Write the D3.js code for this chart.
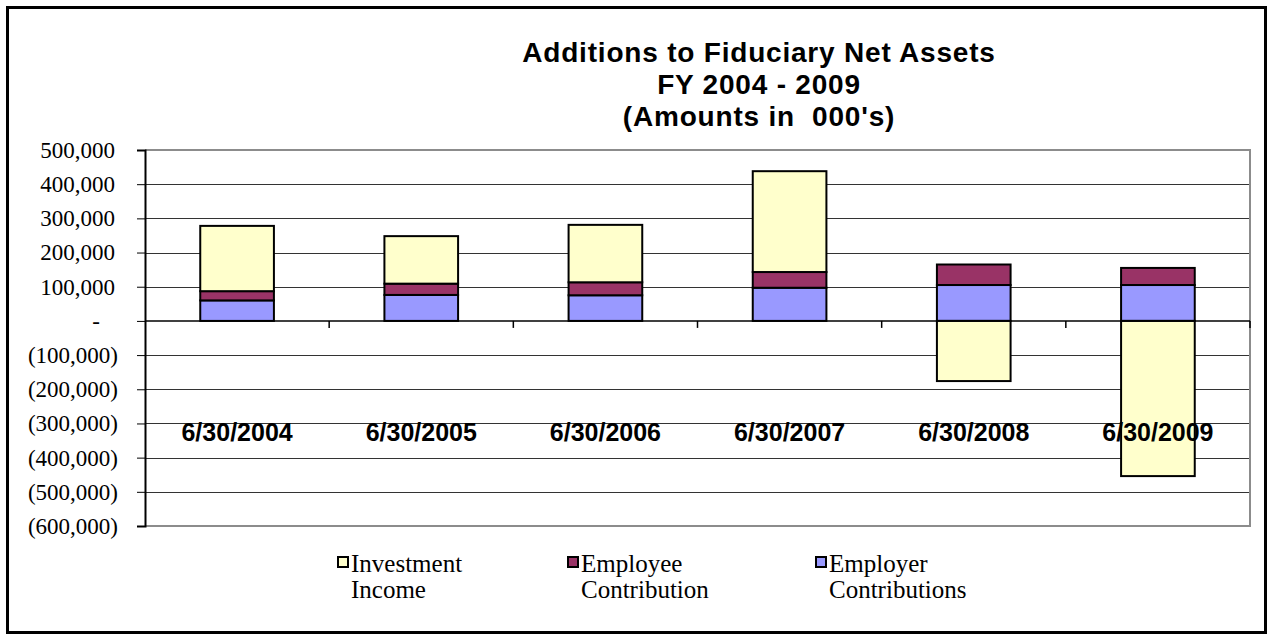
<!DOCTYPE html>
<html lang="en">
<head>
    <meta charset="UTF-8">
    <title>Additions to Fiduciary Net Assets</title>
    <script src="https://d3js.org/d3.v7.min.js"></script>
    <style>
        body {
            margin: 0;
            background: #fff;
        }
        svg {
            display: block;
        }
        .title {
            font-family: "Liberation Sans", Arial, sans-serif;
            font-weight: bold;
            font-size: 28px;
            letter-spacing: 0.8px;
            white-space: pre;
            fill: #000;
        }
        .ylabel {
            font-family: "Liberation Serif", "Times New Roman", serif;
            font-size: 23px;
            fill: #000;
        }
        .xlabel {
            font-family: "Liberation Sans", Arial, sans-serif;
            font-weight: bold;
            font-size: 25px;
            fill: #000;
        }
        .legend text {
            font-family: "Liberation Serif", "Times New Roman", serif;
            font-size: 25px;
            fill: #000;
        }
    </style>
</head>
<body>
    <svg id="chart" width="1272" height="635"></svg>
    <script>
        // Data (amounts in 000's)
        const categories = ["6/30/2004", "6/30/2005", "6/30/2006", "6/30/2007", "6/30/2008", "6/30/2009"];
        const employer = [60000, 76000, 75000, 97000, 105000, 105000];
        const employee = [27000, 33000, 38000, 46000, 60000, 50000];
        const investment = [191000, 139000, 168000, 295000, -176000, -454000];
        const yTicks = [500000, 400000, 300000, 200000, 100000, 0, -100000, -200000, -300000, -400000, -500000, -600000];
        const titleLines = ["Additions to Fiduciary Net Assets", "FY 2004 - 2009", "(Amounts in  000's)"];

        const seriesKeys = ["employer", "employee", "investment"];
        const colors = { employer: "#9999ff", employee: "#993366", investment: "#ffffcc" };

        // plot area
        const plot = { left: 145, right: 1250, top: 150, bottom: 526 };

        const svg = d3.select("#chart");

        // outer frame
        svg.append("rect")
            .attr("x", 7.5).attr("y", 7.5)
            .attr("width", 1258).attr("height", 625)
            .attr("fill", "#fff")
            .attr("stroke", "#000")
            .attr("stroke-width", 3);

        // title
        svg.append("text")
            .attr("class", "title")
            .attr("text-anchor", "middle")
            .selectAll("tspan")
            .data(titleLines)
            .enter()
            .append("tspan")
            .attr("x", 759)
            .attr("y", (d, i) => 62 + i * 32)
            .text(d => d);

        const x = d3.scaleBand()
            .domain(categories)
            .range([plot.left, plot.right])
            .paddingInner(0.6)
            .paddingOuter(0.3);

        const y = d3.scaleLinear()
            .domain([-600000, 500000])
            .range([plot.bottom, plot.top]);

        // gridlines
        svg.append("g")
            .selectAll("line")
            .data(yTicks.filter(v => v !== 500000 && v !== -600000 && v !== 0))
            .enter()
            .append("line")
            .attr("x1", plot.left).attr("x2", plot.right)
            .attr("y1", d => Math.round(y(d)) + 0.5)
            .attr("y2", d => Math.round(y(d)) + 0.5)
            .attr("stroke", "#333")
            .attr("stroke-width", 1);

        // plot border (top, right, bottom in grey)
        svg.append("path")
            .attr("d", `M${plot.left},${plot.top}H${plot.right}V${plot.bottom}H${plot.left}`)
            .attr("fill", "none")
            .attr("stroke", "#8c8c8c")
            .attr("stroke-width", 2);

        // stacked bars
        const table = categories.map((c, i) => ({
            category: c,
            employer: employer[i],
            employee: employee[i],
            investment: investment[i]
        }));

        const stacked = d3.stack()
            .keys(seriesKeys)
            .offset(d3.stackOffsetDiverging)(table);

        svg.append("g")
            .selectAll("g")
            .data(stacked)
            .enter()
            .append("g")
            .attr("fill", d => colors[d.key])
            .selectAll("rect")
            .data(d => d)
            .enter()
            .append("rect")
            .attr("x", d => x(d.data.category))
            .attr("y", d => y(Math.max(d[0], d[1])))
            .attr("width", x.bandwidth())
            .attr("height", d => Math.abs(y(d[0]) - y(d[1])))
            .attr("stroke", "#000")
            .attr("stroke-width", 2);

        // y axis
        const fmt = v => v === 0 ? "-" : v < 0 ? "(" + d3.format(",")(-v) + ")" : d3.format(",")(v);
        const yAxis = svg.append("g")
            .attr("transform", `translate(${plot.left},0)`)
            .call(d3.axisLeft(y).tickValues(yTicks).tickSize(8).tickPadding(19).tickFormat(fmt));
        yAxis.select(".domain").attr("stroke", "#000").attr("stroke-width", 2);
        yAxis.selectAll(".tick line").attr("stroke", "#000");
        yAxis.selectAll(".tick text")
            .attr("class", "ylabel")
            .attr("font-family", null)
            .attr("font-size", null)
            .attr("fill", "#000")
            .attr("dx", d => d > 0 ? -3 : d === 0 ? -18 : 0);

        // zero line with category ticks
        const zeroAxis = svg.append("g")
            .attr("transform", `translate(0,${y(0)})`);
        zeroAxis.append("line")
            .attr("x1", plot.left).attr("x2", plot.right)
            .attr("stroke", "#000").attr("stroke-width", 1.5);
        zeroAxis.selectAll(".ctick")
            .data(categories.slice(1).concat(["end"]))
            .enter()
            .append("line")
            .attr("x1", d => d === "end" ? plot.right : x(d) - x.step() * x.paddingInner() / 2)
            .attr("x2", d => d === "end" ? plot.right : x(d) - x.step() * x.paddingInner() / 2)
            .attr("y1", 0).attr("y2", 7)
            .attr("stroke", "#000").attr("stroke-width", 1.5);

        // category labels (placed low, as in the original)
        svg.append("g")
            .selectAll("text")
            .data(categories)
            .enter()
            .append("text")
            .attr("class", "xlabel")
            .attr("text-anchor", "middle")
            .attr("x", d => x(d) + x.bandwidth() / 2)
            .attr("y", y(-300000) + 18)
            .text(d => d);

        // legend
        const legendItems = [
            { key: "investment", lines: ["Investment", "Income"], x: 338 },
            { key: "employee", lines: ["Employee", "Contribution"], x: 568 },
            { key: "employer", lines: ["Employer", "Contributions"], x: 816 }
        ];
        const legend = svg.append("g").attr("class", "legend");
        const li = legend.selectAll("g")
            .data(legendItems)
            .enter()
            .append("g")
            .attr("transform", d => `translate(${d.x},0)`);
        li.append("rect")
            .attr("x", 0).attr("y", 557)
            .attr("width", 10).attr("height", 10)
            .attr("fill", d => colors[d.key])
            .attr("stroke", "#000")
            .attr("stroke-width", 2);
        li.append("text")
            .attr("x", 13).attr("y", 572)
            .text(d => d.lines[0]);
        li.append("text")
            .attr("x", 13).attr("y", 598)
            .text(d => d.lines[1]);
    </script>
</body>
</html>
